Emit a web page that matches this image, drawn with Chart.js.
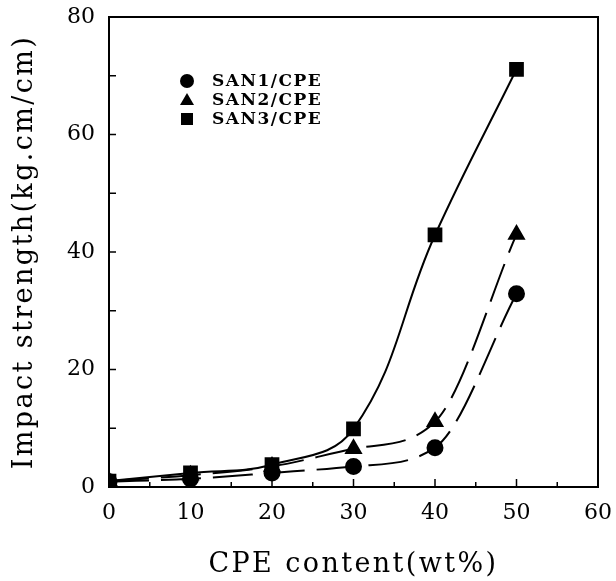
<!DOCTYPE html>
<html>
<head>
<meta charset="utf-8">
<script src="https://cdn.jsdelivr.net/npm/chart.js@4/dist/chart.umd.min.js"></script>
<style>
html,body{margin:0;padding:0;background:#fff;}
#wrap{width:616px;height:581px;position:relative;}
</style>
</head>
<body>
<div id="wrap"><canvas id="c" width="616" height="581"></canvas></div>
<script>
const cpeContent = [0, 10, 20, 30, 40, 50];
const san1 = [0.9, 1.4, 2.4, 3.5, 6.7, 32.9];
const san2 = [1.0, 2.0, 3.5, 6.5, 11.1, 43.0];
const san3 = [1.0, 2.4, 3.8, 9.9, 42.9, 71.1];
const seriesNames = ['SAN1/CPE', 'SAN2/CPE', 'SAN3/CPE'];
const xTicks = [0, 10, 20, 30, 40, 50, 60];
const yTicks = [0, 20, 40, 60, 80];

const FONT = '"DejaVu Serif", "Liberation Serif", serif';

function pts(arr){ return cpeContent.map((x,i)=>({x:x, y:arr[i]})); }

function spacedTitle(s){
  if (s._spaced) return;
  const orig = s.drawTitle;
  s.drawTitle = function(){
    const ctx = this.ctx;
    ctx.letterSpacing = '2.4px';
    orig.apply(this, arguments);
    ctx.letterSpacing = '0px';
  };
  s._spaced = true;
}

const framePlugin = {
  id: 'frame',
  afterDraw(chart){
    const ctx = chart.ctx, a = chart.chartArea;
    const xs = chart.scales.x, ys = chart.scales.y;
    ctx.save();
    ctx.strokeStyle = '#000';
    ctx.lineWidth = 2;
    ctx.strokeRect(a.left, a.top, a.right - a.left, a.bottom - a.top);
    ctx.lineWidth = 1.5;
    ctx.beginPath();
    for (let v = 0; v <= 60; v += 5) {
      const px = xs.getPixelForValue(v);
      const len = (v % 10 === 0) ? 8 : 5;
      ctx.moveTo(px, a.bottom); ctx.lineTo(px, a.bottom - len);
    }
    for (let v = 0; v <= 80; v += 10) {
      const py = ys.getPixelForValue(v);
      ctx.moveTo(a.left, py); ctx.lineTo(a.left + 7, py);
    }
    ctx.stroke();
    // legend
    const styles = ['circle', 'triangle', 'rect'];
    const lx = a.left + 78, ly0 = a.top + 64, dy = 19;
    ctx.fillStyle = '#000';
    styles.forEach((s, i) => {
      const cy = ly0 + i * dy;
      ctx.beginPath();
      if (s === 'circle') { ctx.arc(lx, cy, 7, 0, Math.PI * 2); }
      else if (s === 'triangle') { ctx.moveTo(lx, cy - 7); ctx.lineTo(lx + 7, cy + 5); ctx.lineTo(lx - 7, cy + 5); ctx.closePath(); }
      else { ctx.rect(lx - 6, cy - 6, 12, 12); }
      ctx.fill();
    });
    ctx.font = 'bold 17px ' + FONT;
    ctx.letterSpacing = '1.5px';
    ctx.textAlign = 'left';
    ctx.textBaseline = 'middle';
    seriesNames.forEach((n, i) => ctx.fillText(n, lx + 25, ly0 + i * dy + 1));
    ctx.letterSpacing = '0px';
    ctx.restore();
  }
};

const common = {
  showLine: true,
  borderColor: '#000',
  backgroundColor: '#000',
  pointBackgroundColor: '#000',
  pointBorderColor: '#000',
  borderWidth: 2,
  cubicInterpolationMode: 'monotone',
  fill: false
};

new Chart(document.getElementById('c'), {
  type: 'scatter',
  data: {
    datasets: [
      Object.assign({}, common, {label: seriesNames[0], data: pts(san1), pointStyle: 'circle', pointRadius: 7.5, borderDash: [40, 12]}),
      Object.assign({}, common, {label: seriesNames[1], data: pts(san2), pointStyle: 'triangle', pointRadius: 8.5, borderDash: [40, 12]}),
      Object.assign({}, common, {label: seriesNames[2], data: pts(san3), pointStyle: 'rect', pointRadius: 9, cubicInterpolationMode: 'default', tension: 0.4})
    ]
  },
  options: {
    responsive: false,
    animation: false,
    layout: {padding: {top: 17, right: 18, left: 0, bottom: 0}},
    plugins: {legend: {display: false}, tooltip: {enabled: false}},
    scales: {
      x: {
        type: 'linear', min: 0, max: 60,
        afterBuildTicks(s){ s.ticks = xTicks.map(v => ({value: v})); },
        afterFit(s){ s.height = 94; s.paddingLeft = 0; s.paddingRight = 0; spacedTitle(s); },
        grid: {display: false, drawTicks: false},
        border: {display: false},
        ticks: {color: '#000', padding: 13, font: {family: FONT, size: 22}},
        title: {display: true, text: 'CPE content(wt%)', color: '#000', font: {family: FONT, size: 27}, padding: {top: 0, bottom: 0}}
      },
      y: {
        type: 'linear', min: 0, max: 80,
        afterBuildTicks(s){ s.ticks = yTicks.map(v => ({value: v})); },
        afterFit(s){ s.width = 109; s.paddingTop = 0; s.paddingBottom = 0; spacedTitle(s); },
        grid: {display: false, drawTicks: false},
        border: {display: false},
        ticks: {color: '#000', padding: 14, font: {family: FONT, size: 22}},
        title: {display: true, text: 'Impact strength(kg.cm/cm)', color: '#000', font: {family: FONT, size: 27}, padding: {top: 9, bottom: 0}}
      }
    }
  },
  plugins: [framePlugin]
});
</script>
</body>
</html>
